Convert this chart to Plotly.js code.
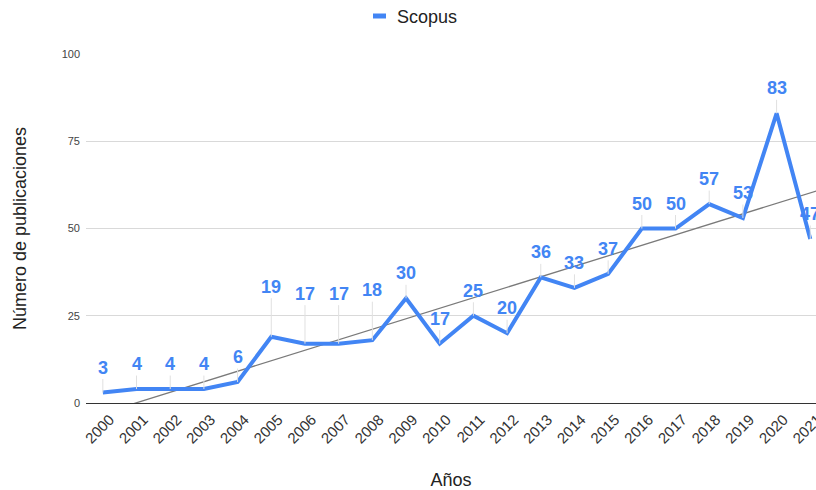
<!DOCTYPE html>
<html>
<head>
<meta charset="utf-8">
<script src="https://cdn.plot.ly/plotly-3.0.1.min.js"></script>
<style>html,body{margin:0;padding:0;background:#fff;}#chart{width:816px;height:490px;}</style>
</head>
<body>
<div id="chart"></div>
<script>
const years = [2000,2001,2002,2003,2004,2005,2006,2007,2008,2009,2010,2011,2012,2013,2014,2015,2016,2017,2018,2019,2020,2021];
const scopus = [3,4,4,4,6,19,17,17,18,30,17,25,20,36,33,37,50,50,57,53,83,47];
const yTicks = [0,25,50,75,100];
const seriesName = 'Scopus';

// linear least-squares trendline
const n = years.length;
const mx = years.reduce((a,b)=>a+b,0)/n;
const my = scopus.reduce((a,b)=>a+b,0)/n;
let sxy = 0, sxx = 0;
for (let i=0;i<n;i++){ sxy += (years[i]-mx)*(scopus[i]-my); sxx += (years[i]-mx)*(years[i]-mx); }
const slope = sxy/sxx, icpt = my - slope*mx;
const trendX = [years[0]-0.5, years[n-1]+0.5];
const trendY = trendX.map(x => icpt + slope*x);

const blue = '#4285F4';
const lift = years.map((y,i) => (i>=5 && i<=8) ? -50 : -25);

const annotations = years.map((yr,i) => ({
  x: yr, y: scopus[i], xref:'x', yref:'y',
  text: String(scopus[i]),
  showarrow: true, arrowhead: 0, arrowwidth: 1, arrowcolor: '#e0e0e0',
  ax: 0, ay: lift[i], standoff: 0,
  font: {family:'Liberation Sans, Arial, sans-serif', size:18, color: blue, weight: 700}
}));
// custom legend text
annotations.push({
  xref:'paper', yref:'paper', x:(395-86)/730, y:(403-17)/349,
  xanchor:'left', yanchor:'middle', showarrow:false, text: seriesName,
  font:{family:'Liberation Sans, Arial, sans-serif', size:18, color:'#222'}
});

const data = [
  {x: trendX, y: trendY, mode:'lines', line:{color:'#7a7a7a', width:1.3}, hoverinfo:'skip', showlegend:false},
  {x: years, y: scopus, mode:'lines', name: seriesName, line:{color: blue, width:4}, showlegend:false}
];

const layout = {
  width:816, height:490,
  margin:{l:86, r:0, t:54, b:87},
  paper_bgcolor:'#fff', plot_bgcolor:'#fff',
  showlegend:false,
  font:{family:'Liberation Sans, Arial, sans-serif', color:'#222'},
  xaxis:{
    range:[1999.5, 2021.17], tickmode:'array', tickvals: years, ticktext: years.map(String),
    tickangle:-45, showgrid:false, zeroline:false, showline:false, ticks:'',
    tickfont:{size:15, color:'#333'}, ticklabeloverflow:'allow',
    ticklabelshift: 7, ticklabelstandoff: 4,
    title:{text:'Años', font:{size:18, color:'#222'}, standoff: 28}
  },
  yaxis:{
    range:[0,100], tickmode:'array', tickvals: yTicks, ticks:'',
    showgrid:true, gridcolor:'#d9d9d9', gridwidth:1,
    zeroline:true, zerolinecolor:'#333', zerolinewidth:1,
    showline:false, tickfont:{size:11, color:'#444'}, ticklabelstandoff: 5,
    title:{text:'Número de publicaciones', font:{size:18, color:'#222'}, standoff: 30}
  },
  shapes:[{type:'line', xref:'paper', yref:'paper',
    x0:(373-86)/730, x1:(386-86)/730, y0:(403-16)/349, y1:(403-16)/349,
    line:{color: blue, width:5}}],
  annotations: annotations
};
Plotly.newPlot('chart', data, layout, {displayModeBar:false, staticPlot:true});
</script>
</body>
</html>
